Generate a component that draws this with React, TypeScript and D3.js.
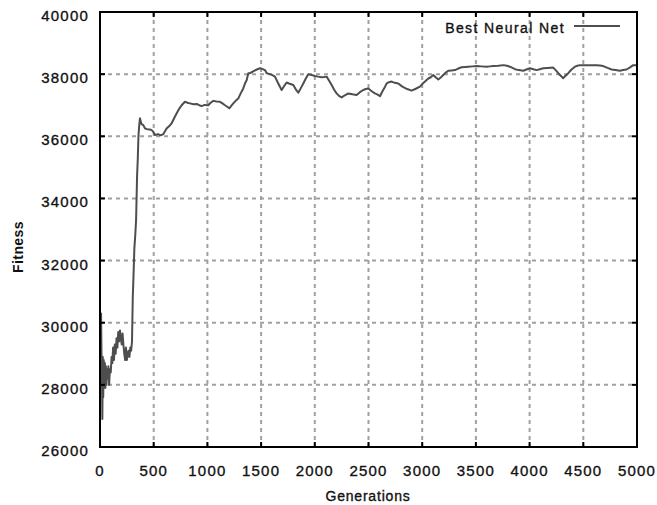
import React from "react";
import * as d3 from "d3";

const generations: number[] = [
  0, 5, 10, 14, 18, 22, 26, 30, 35, 40, 45, 50, 55, 60, 66, 72, 78, 85, 92, 100,
  108, 115, 122, 130, 138, 146, 154, 162, 170, 178, 186, 194, 202, 210, 218, 226,
  234, 242, 250, 258, 266, 274, 282, 290, 298, 305, 312, 320, 328, 336, 345, 352,
  358, 364, 372, 385, 403, 420, 440, 465, 481, 495, 512, 540, 565, 590, 620, 645,
  667, 690, 714, 740, 760, 791, 815, 838, 870, 900, 925, 946, 975, 1008, 1030, 1055,
  1085, 1117, 1140, 1164, 1185, 1204, 1222, 1241, 1265, 1288, 1310, 1334, 1350, 1366,
  1381, 1397, 1430, 1460, 1490, 1510, 1536, 1552, 1583, 1610, 1629, 1660, 1691, 1715,
  1738, 1760, 1800, 1825, 1846, 1870, 1893, 1915, 1939, 1970, 2002, 2030, 2064, 2090,
  2110, 2135, 2157, 2180, 2203, 2225, 2250, 2280, 2312, 2350, 2389, 2420, 2451, 2475,
  2498, 2530, 2560, 2585, 2607, 2630, 2653, 2669, 2690, 2716, 2745, 2777, 2800, 2824,
  2860, 2902, 2940, 2979, 3000, 3026, 3057, 3080, 3103, 3125, 3150, 3175, 3196, 3220,
  3243, 3275, 3305, 3335, 3367, 3400, 3429, 3470, 3507, 3550, 3600, 3630, 3662, 3710,
  3755, 3790, 3817, 3840, 3864, 3900, 3941, 3970, 4003, 4035, 4065, 4095, 4127, 4170,
  4220, 4245, 4267, 4290, 4313, 4335, 4360, 4390, 4422, 4445, 4469, 4500, 4531, 4580,
  4624, 4655, 4686, 4725, 4764, 4800, 4841, 4870, 4903, 4935, 4965, 5000,
];

const bestFitness: number[] = [
  28300, 28000, 30300, 29000, 28500, 26900, 28900, 27600, 28800, 28100, 28700, 27900, 28600, 28000, 28500, 28200, 28600, 28000, 28500, 28400,
  28900, 28700, 29200, 28800, 29300, 29000, 29500, 29200, 29700, 29400, 29750, 29500, 29300, 29650, 29300, 29000,
  28800, 29200, 28800, 29000, 29100, 28900, 29200, 29100, 29400, 30800, 31500, 32400, 32800, 33300, 34700, 35300,
  36000, 36300, 36580, 36400, 36360, 36250, 36230, 36220, 36200, 36150, 36040, 36070, 36030, 36070, 36250, 36330,
  36420, 36580, 36740, 36900, 37000, 37110, 37080, 37060, 37030, 37040, 37000, 36970, 37010, 37000, 37080, 37140,
  37120, 37110, 37060, 37000, 36950, 36900, 36980, 37060, 37150, 37220, 37380, 37540, 37700, 37810,
  38030, 38030, 38100, 38150, 38190, 38170, 38130, 38030, 38000, 37960, 37920, 37700, 37490, 37620,
  37730, 37700, 37650, 37500, 37400, 37550, 37700, 37850, 38000, 37970, 37940, 37920, 37900, 37910,
  37920, 37780, 37650, 37500, 37380, 37300, 37250, 37320, 37380, 37350, 37330, 37420, 37490, 37520,
  37540, 37450, 37380, 37340, 37290, 37450, 37590, 37700, 37740, 37760, 37720, 37700, 37640, 37580,
  37520, 37470, 37530, 37600, 37680, 37760, 37860, 37900, 37970, 37900, 37830, 37900, 37970, 38050,
  38110, 38120, 38130, 38180, 38220, 38230, 38240, 38250, 38260, 38250, 38240, 38250, 38260, 38270,
  38290, 38270, 38240, 38200, 38160, 38130, 38110, 38150, 38190, 38160, 38130, 38160, 38190, 38200,
  38210, 38120, 38030, 37950, 37870, 37950, 38030, 38150, 38240, 38270, 38290, 38290, 38290, 38290,
  38290, 38280, 38260, 38200, 38150, 38130, 38110, 38130, 38150, 38220, 38290, 38290,
];

const xTicks: number[] = [0, 500, 1000, 1500, 2000, 2500, 3000, 3500, 4000, 4500, 5000];
const yTicks: number[] = [26000, 28000, 30000, 32000, 34000, 36000, 38000, 40000];

const seriesName = "Best Neural Net";
const xTitle = "Generations";
const yTitle = "Fitness";

const W = 657;
const H = 505;
const left = 100;
const right = 637;
const top = 12;
const bottom = 447;

const font = "'Liberation Sans', Arial, Helvetica, sans-serif";
const textStroke = { stroke: "#111", strokeWidth: 0.35 };

export default function App() {
  const x = d3.scaleLinear().domain([0, 5000]).range([left, right]);
  const y = d3.scaleLinear().domain([26000, 40000]).range([bottom, top]);
  const pts: [number, number][] = generations.map((g, i) => [g, bestFitness[i]]);
  const line = d3
    .line<[number, number]>()
    .x((d) => x(d[0]))
    .y((d) => y(d[1]));

  return (
    <svg
      width={W}
      height={H}
      style={{ position: "absolute", left: 0, top: 0, background: "#fff" }}
    >
      <rect x={0} y={0} width={W} height={H} fill="#fff" />
      {xTicks.slice(1, -1).map((t) => (
        <line
          key={"gx" + t}
          x1={x(t)}
          x2={x(t)}
          y1={top}
          y2={bottom}
          stroke="#a0a0a0"
          strokeWidth={2}
          strokeDasharray="4,4"
        />
      ))}
      {yTicks.slice(1, -1).map((t) => (
        <line
          key={"gy" + t}
          x1={left}
          x2={right}
          y1={y(t)}
          y2={y(t)}
          stroke="#a0a0a0"
          strokeWidth={2}
          strokeDasharray="4,4"
        />
      ))}
      <path d={line(pts) || ""} fill="none" stroke="#4e4e4e" strokeWidth={2} strokeLinejoin="round" />
      {xTicks.map((t) => (
        <g key={"tx" + t}>
          <line x1={x(t)} x2={x(t)} y1={bottom} y2={bottom - 5} stroke="#000" strokeWidth={2} />
          <line x1={x(t)} x2={x(t)} y1={top} y2={top + 5} stroke="#000" strokeWidth={2} />
          <text
            x={x(t)}
            y={476}
            textAnchor="middle"
            fontFamily={font}
            fontSize={15}
            letterSpacing={1.2}
            fill="#111"
            {...textStroke}
          >
            {t}
          </text>
        </g>
      ))}
      {yTicks.map((t) => (
        <g key={"ty" + t}>
          <line x1={left} x2={left + 5} y1={y(t)} y2={y(t)} stroke="#000" strokeWidth={2} />
          <line x1={right} x2={right - 5} y1={y(t)} y2={y(t)} stroke="#000" strokeWidth={2} />
          <text
            x={89}
            y={y(t) + 9}
            textAnchor="end"
            fontFamily={font}
            fontSize={15}
            letterSpacing={1.2}
            fill="#111"
            {...textStroke}
          >
            {t}
          </text>
        </g>
      ))}
      <rect
        x={left}
        y={top}
        width={right - left}
        height={bottom - top}
        fill="none"
        stroke="#000"
        strokeWidth={2}
      />
      <text
        x={565}
        y={33}
        textAnchor="end"
        fontFamily={font}
        fontSize={14}
        letterSpacing={1.4}
        fill="#111"
        {...textStroke}
      >
        {seriesName}
      </text>
      <line x1={574} x2={620} y1={26} y2={26} stroke="#4e4e4e" strokeWidth={2} />
      <text
        x={368}
        y={501}
        textAnchor="middle"
        fontFamily={font}
        fontSize={14}
        letterSpacing={0.8}
        fill="#111"
        {...textStroke}
      >
        {xTitle}
      </text>
      <text
        transform={`translate(23, 247) rotate(-90)`}
        textAnchor="middle"
        fontFamily={font}
        fontSize={14}
        fontWeight="bold"
        letterSpacing={0.4}
        fill="#111"
      >
        {yTitle}
      </text>
    </svg>
  );
}
